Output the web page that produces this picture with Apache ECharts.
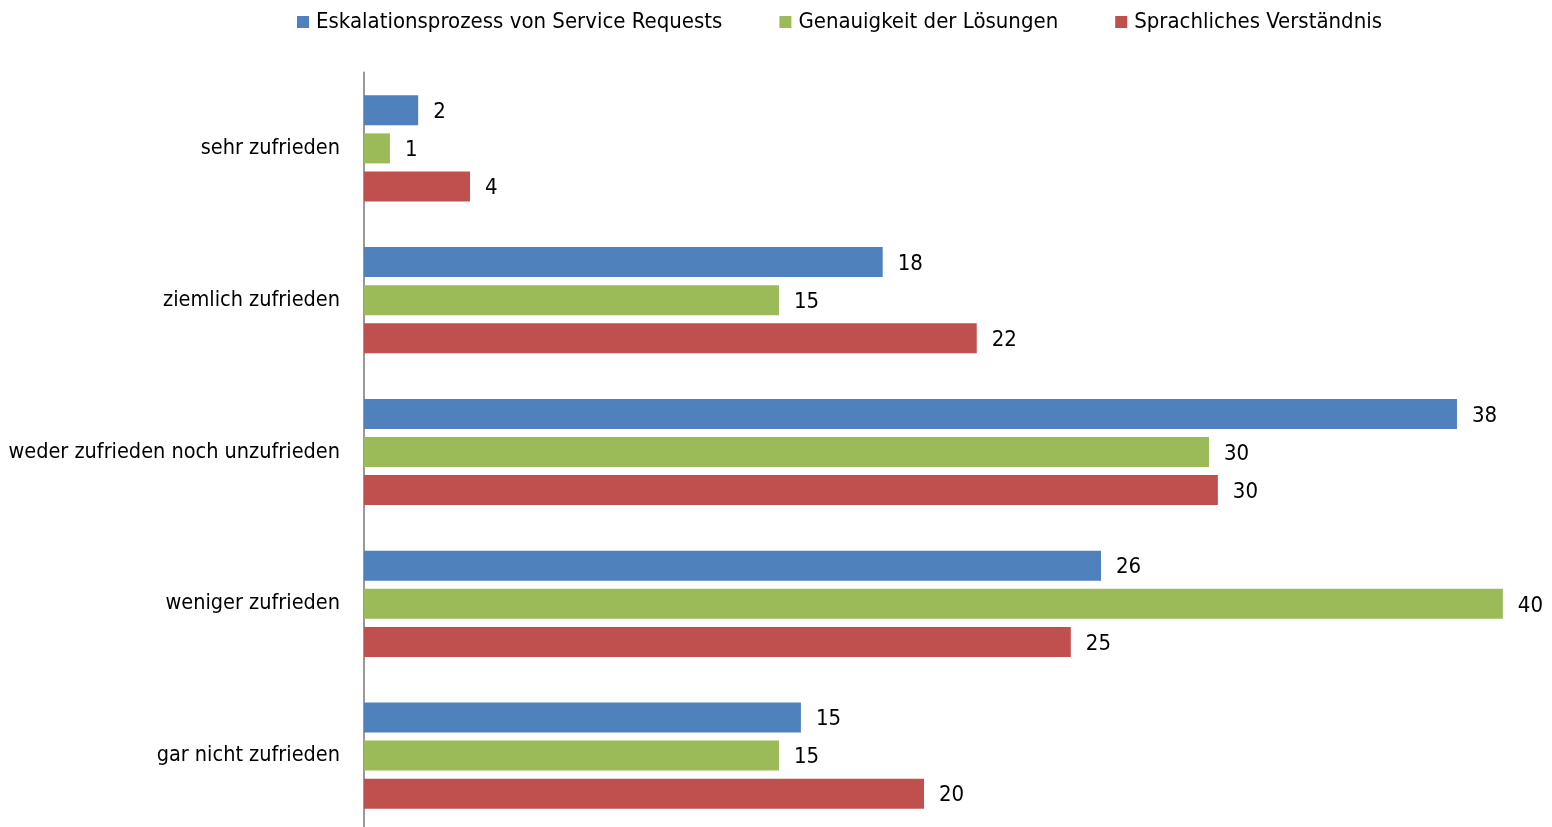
<!DOCTYPE html>
<html>
<head>
<meta charset="utf-8">
<script src="https://cdn.jsdelivr.net/npm/echarts@6/dist/echarts.min.js"></script>
<style>html,body{margin:0;padding:0;background:#fff;}#c{width:1552px;height:827px;}</style>
</head>
<body>
<div id="c"></div>
<script>
var categories = ['sehr zufrieden', 'ziemlich zufrieden', 'weder zufrieden noch unzufrieden', 'weniger zufrieden', 'gar nicht zufrieden'];
var seriesNames = ['Eskalationsprozess von Service Requests', 'Genauigkeit der Lösungen', 'Sprachliches Verständnis'];
var eskalation = [1.9, 18.2, 38.35, 25.86, 15.33];
var genauigkeit = [0.91, 14.56, 29.65, 39.96, 14.56];
var sprachlich = [3.72, 21.5, 29.96, 24.8, 19.65];
var colors = ['#4F81BD', '#9BBB59', '#C0504D'];
var FONT = '"Liberation Sans Narrow", "DejaVu Sans Condensed", "Liberation Sans", sans-serif';

var chart = echarts.init(document.getElementById('c'));
function mk(name, data, color) {
  return {
    name: name, type: 'bar', data: data, barWidth: 30, barGap: '27%',
    itemStyle: { color: color },
    label: { show: true, position: 'right', distance: 15, color: '#000', fontSize: 22, fontFamily: FONT,
      offset: [0, 2],
      formatter: function (p) { return Math.round(p.value); } },
    animation: false
  };
}
chart.setOption({
  animation: false,
  color: colors,
  legend: {
    left: 292, top: 6, itemWidth: 12, itemHeight: 12, itemGap: 57, icon: 'rect',
    textStyle: { fontSize: 22, fontFamily: FONT, color: '#000', padding: [0, 0, 0, 2] },
    data: seriesNames
  },
  grid: { left: 364, top: 72.5, width: 1168.5, height: 759, containLabel: false, outerBoundsMode: 'none' },
  xAxis: { type: 'value', min: 0, max: 41, show: false },
  yAxis: {
    type: 'category', data: categories, inverse: true,
    axisLine: { show: true, lineStyle: { color: '#999', width: 2 } },
    axisTick: { show: false },
    axisLabel: { margin: 24, fontSize: 21.5, fontFamily: FONT, color: '#000', padding: [5, 0, 0, 0] }
  },
  series: [mk(seriesNames[0], eskalation, colors[0]), mk(seriesNames[1], genauigkeit, colors[1]), mk(seriesNames[2], sprachlich, colors[2])]
});
</script>
</body>
</html>
